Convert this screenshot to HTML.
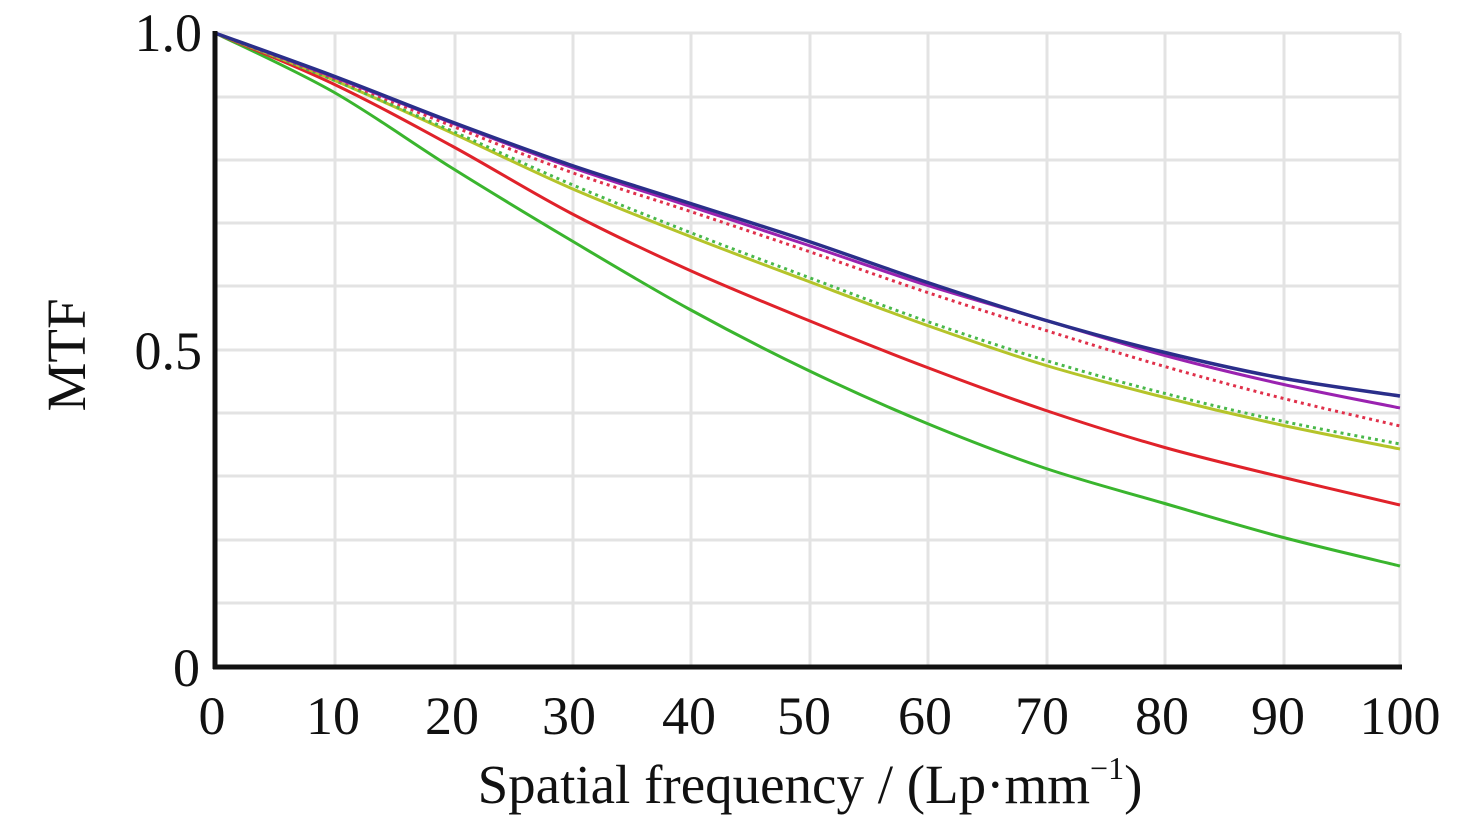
<!DOCTYPE html><html><head><style>body{margin:0;background:#fff}svg{display:block}text{font-family:"Liberation Serif",serif;fill:#111}</style></head><body>
<svg id="s" width="1476" height="818" xmlns="http://www.w3.org/2000/svg">
<g stroke="#e3e3e3" stroke-width="3">
<line x1="215" y1="33" x2="1400" y2="33"/><line x1="215" y1="97" x2="1400" y2="97"/><line x1="215" y1="160" x2="1400" y2="160"/><line x1="215" y1="223" x2="1400" y2="223"/><line x1="215" y1="286" x2="1400" y2="286"/><line x1="215" y1="350" x2="1400" y2="350"/><line x1="215" y1="413" x2="1400" y2="413"/><line x1="215" y1="476" x2="1400" y2="476"/><line x1="215" y1="540" x2="1400" y2="540"/><line x1="215" y1="603" x2="1400" y2="603"/>
<line x1="335" y1="33" x2="335" y2="667"/><line x1="455" y1="33" x2="455" y2="667"/><line x1="573" y1="33" x2="573" y2="667"/><line x1="691" y1="33" x2="691" y2="667"/><line x1="810" y1="33" x2="810" y2="667"/><line x1="928" y1="33" x2="928" y2="667"/><line x1="1047" y1="33" x2="1047" y2="667"/><line x1="1165" y1="33" x2="1165" y2="667"/><line x1="1284" y1="33" x2="1284" y2="667"/><line x1="1400" y1="33" x2="1400" y2="667"/>
</g>
<g id="c" fill="none" stroke-width="3" stroke-linejoin="round"></g>
<line x1="215" y1="31" x2="215" y2="669" stroke="#111" stroke-width="5"/>
<line x1="213" y1="667" x2="1402" y2="667" stroke="#111" stroke-width="5"/>
<g font-size="54" text-anchor="end"><text x="202" y="51">1.0</text><text x="202" y="369">0.5</text><text x="200" y="686">0</text></g>
<g font-size="54" text-anchor="middle"><text x="212" y="734">0</text><text x="333" y="734">10</text><text x="452" y="734">20</text><text x="569" y="734">30</text><text x="689" y="734">40</text><text x="804" y="734">50</text><text x="925" y="734">60</text><text x="1042" y="734">70</text><text x="1162" y="734">80</text><text x="1278" y="734">90</text><text x="1400" y="734">100</text></g>
<text x="810" y="803" font-size="55" text-anchor="middle">Spatial frequency / (Lp·mm<tspan font-size="32" dy="-24">−1</tspan><tspan dy="24">)</tspan></text>
<text transform="translate(85,355) rotate(-90)" font-size="55" text-anchor="middle">MTF</text>
</svg>
<script>
var S=[
["#3ab52e","",[33,92,168,240,309,370,423,468,503,537,566]],
["#e0222a","",[33,84,146,213,270,320,367,410,447,477,505]],
["#b5c42a","",[33,80,133,188,236,281,325,365,397,425,449]],
["#49b84a","3,4",[33,80,131,184,232,277,321,360,393,421,444]],
["#e0304a","3,4",[33,78,126,172,211,251,292,330,366,398,426]],
["#9a22b0","",[33,77,123,167,206,245,285,320,355,384,408]],
["#2a2e8a","",[33,76,122,165,203,241,282,320,352,378,396]]];
var g=document.getElementById("c");
S.forEach(function(s){var y=s[2],p=[];for(var i=0;i<11;i++)p.push([215+i*118.5,y[i]]);
var d="M"+p[0][0]+","+p[0][1];
for(var i=0;i<10;i++){var a=p[Math.max(i-1,0)],b=p[i],c=p[i+1],e=p[Math.min(i+2,10)];
d+=" C"+(b[0]+(c[0]-a[0])/6)+","+(b[1]+(c[1]-a[1])/6)+" "+(c[0]-(e[0]-b[0])/6)+","+(c[1]-(e[1]-b[1])/6)+" "+c[0]+","+c[1];}
var el=document.createElementNS("http://www.w3.org/2000/svg","path");el.setAttribute("d",d);el.setAttribute("stroke",s[0]);
if(s[1])el.setAttribute("stroke-dasharray",s[1]);if(s[0]=="#2a2e8a")el.setAttribute("stroke-width","3.5");g.appendChild(el);});
</script>
</body></html>
